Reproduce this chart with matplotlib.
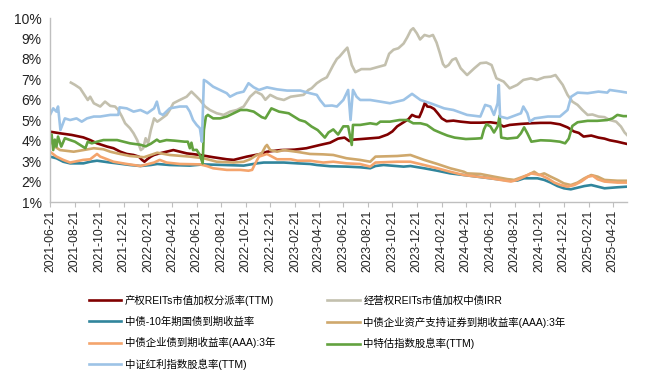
import matplotlib
matplotlib.use("Agg")
import matplotlib.pyplot as plt
import matplotlib.dates as mdates
import pandas as pd

plt.rcParams['font.family'] = ['Liberation Sans', 'Noto Sans CJK SC']

# ---- data (date, %) ----
reit_prop = [
    ("2021-06-21", 4.44), ("2021-07-16", 4.36), ("2021-08-14", 4.28), ("2021-09-12", 4.16),
    ("2021-09-29", 4.03), ("2021-10-16", 3.87), ("2021-11-10", 3.71), ("2021-11-26", 3.63),
    ("2021-12-13", 3.46), ("2021-12-29", 3.35), ("2022-01-15", 3.30), ("2022-01-28", 3.22),
    ("2022-02-05", 3.06), ("2022-02-11", 2.97), ("2022-02-18", 3.09), ("2022-02-27", 3.22),
    ("2022-03-07", 3.30), ("2022-03-21", 3.38), ("2022-04-07", 3.46), ("2022-04-24", 3.54),
    ("2022-05-27", 3.38), ("2022-06-29", 3.30), ("2022-08-01", 3.19), ("2022-09-04", 3.09),
    ("2022-09-21", 3.06), ("2022-10-24", 3.22), ("2022-11-27", 3.35), ("2022-12-13", 3.46),
    ("2023-01-16", 3.54), ("2023-02-19", 3.56), ("2023-03-21", 3.63), ("2023-04-24", 3.79),
    ("2023-05-19", 3.90), ("2023-06-08", 4.10), ("2023-06-24", 4.15), ("2023-07-06", 3.98),
    ("2023-07-15", 4.05), ("2023-08-05", 4.08), ("2023-09-18", 4.15), ("2023-10-09", 4.30),
    ("2023-10-21", 4.45), ("2023-11-02", 4.70), ("2023-11-18", 4.90), ("2023-11-30", 5.05),
    ("2023-12-09", 5.26), ("2023-12-18", 5.18), ("2023-12-27", 5.15), ("2024-01-02", 5.42),
    ("2024-01-10", 5.85), ("2024-01-16", 5.67), ("2024-01-24", 5.65), ("2024-02-02", 5.55),
    ("2024-02-11", 5.34), ("2024-02-21", 5.09), ("2024-03-04", 4.95), ("2024-03-21", 4.98),
    ("2024-04-08", 4.93), ("2024-05-03", 4.88), ("2024-05-27", 4.88), ("2024-06-21", 4.90),
    ("2024-07-09", 4.85), ("2024-07-24", 4.69), ("2024-08-08", 4.77), ("2024-09-05", 4.82),
    ("2024-09-30", 4.85), ("2024-10-24", 4.87), ("2024-11-18", 4.87), ("2024-12-11", 4.80),
    ("2024-12-30", 4.65), ("2025-01-15", 4.45), ("2025-01-27", 4.38), ("2025-02-08", 4.20),
    ("2025-02-27", 4.25), ("2025-03-17", 4.15), ("2025-04-01", 4.10), ("2025-04-14", 4.02),
    ("2025-05-03", 3.95), ("2025-05-18", 3.88), ("2025-05-27", 3.84),
]

reit_oper = [
    ("2021-08-12", 6.84), ("2021-08-22", 6.73), ("2021-09-04", 6.56), ("2021-09-12", 6.32),
    ("2021-09-23", 5.99), ("2021-09-29", 6.15), ("2021-10-08", 5.83), ("2021-10-24", 5.67),
    ("2021-11-05", 5.91), ("2021-11-18", 5.70), ("2021-11-30", 5.67), ("2021-12-08", 5.50),
    ("2021-12-17", 5.18), ("2021-12-25", 4.85), ("2022-01-06", 4.61), ("2022-01-15", 4.36),
    ("2022-01-24", 4.03), ("2022-02-02", 3.54), ("2022-02-08", 3.63), ("2022-02-14", 4.12),
    ("2022-02-20", 3.87), ("2022-02-27", 4.52), ("2022-03-07", 5.09), ("2022-03-15", 4.93),
    ("2022-03-21", 5.01), ("2022-04-07", 5.26), ("2022-04-15", 5.50), ("2022-04-24", 5.83),
    ("2022-05-10", 5.99), ("2022-05-27", 6.15), ("2022-06-08", 6.40), ("2022-06-21", 6.15),
    ("2022-06-29", 5.99), ("2022-07-12", 5.67), ("2022-07-24", 5.50), ("2022-08-10", 5.34),
    ("2022-08-27", 5.26), ("2022-09-12", 5.42), ("2022-09-29", 5.50), ("2022-10-16", 5.67),
    ("2022-11-01", 6.15), ("2022-11-15", 6.40), ("2022-11-30", 6.25), ("2022-12-09", 6.00),
    ("2022-12-21", 6.24), ("2023-01-07", 6.07), ("2023-01-24", 5.99), ("2023-02-10", 6.15),
    ("2023-03-14", 6.24), ("2023-03-26", 6.48), ("2023-04-03", 6.56), ("2023-04-16", 6.81),
    ("2023-04-28", 6.97), ("2023-05-11", 7.10), ("2023-05-27", 7.70), ("2023-06-05", 8.00),
    ("2023-06-11", 8.10), ("2023-06-24", 8.40), ("2023-07-01", 8.55), ("2023-07-12", 7.70),
    ("2023-07-21", 7.35), ("2023-08-05", 7.50), ("2023-08-27", 7.50), ("2023-09-18", 7.62),
    ("2023-10-03", 7.70), ("2023-10-13", 8.25), ("2023-10-24", 8.45), ("2023-11-05", 8.52),
    ("2023-11-18", 8.75), ("2023-11-27", 9.05), ("2023-12-06", 9.40), ("2023-12-12", 9.50),
    ("2023-12-21", 9.25), ("2023-12-29", 8.95), ("2024-01-09", 9.17), ("2024-01-21", 9.10),
    ("2024-01-30", 9.17), ("2024-02-08", 8.80), ("2024-02-16", 8.30), ("2024-02-24", 7.75),
    ("2024-03-01", 7.60), ("2024-03-09", 7.70), ("2024-03-18", 7.95), ("2024-03-27", 8.03),
    ("2024-04-08", 7.54), ("2024-04-24", 7.21), ("2024-05-12", 7.54), ("2024-05-27", 7.79),
    ("2024-06-11", 7.82), ("2024-06-24", 7.70), ("2024-07-06", 7.05), ("2024-07-24", 6.89),
    ("2024-08-08", 6.56), ("2024-08-27", 6.73), ("2024-09-11", 6.97), ("2024-09-30", 7.05),
    ("2024-10-15", 6.97), ("2024-11-02", 7.10), ("2024-11-18", 7.13), ("2024-11-30", 7.21),
    ("2024-12-09", 6.97), ("2024-12-18", 6.73), ("2024-12-30", 6.24), ("2025-01-11", 5.91),
    ("2025-01-24", 5.75), ("2025-02-05", 5.50), ("2025-02-18", 5.26), ("2025-03-02", 5.28),
    ("2025-03-17", 5.18), ("2025-04-01", 5.15), ("2025-04-14", 5.01), ("2025-04-30", 4.93),
    ("2025-05-12", 4.69), ("2025-05-21", 4.40), ("2025-05-27", 4.28),
]

gov_10y = [
    ("2021-06-21", 3.22), ("2021-07-07", 3.14), ("2021-07-24", 2.97), ("2021-08-10", 2.89),
    ("2021-09-12", 2.89), ("2021-09-29", 2.97), ("2021-10-16", 3.02), ("2021-11-18", 2.93),
    ("2021-12-05", 2.89), ("2022-01-06", 2.81), ("2022-02-01", 2.76), ("2022-02-27", 2.81),
    ("2022-03-15", 2.86), ("2022-04-15", 2.81), ("2022-06-04", 2.78), ("2022-07-08", 2.84),
    ("2022-08-27", 2.81), ("2022-10-16", 2.78), ("2022-11-18", 2.89), ("2022-12-05", 2.93),
    ("2023-01-24", 2.93), ("2023-02-27", 2.89), ("2023-03-30", 2.86), ("2023-04-16", 2.81),
    ("2023-05-19", 2.75), ("2023-06-29", 2.73), ("2023-08-01", 2.70), ("2023-08-27", 2.65),
    ("2023-09-09", 2.76), ("2023-09-29", 2.81), ("2023-11-18", 2.73), ("2023-12-05", 2.76),
    ("2024-01-08", 2.65), ("2024-02-10", 2.53), ("2024-03-13", 2.40), ("2024-04-16", 2.32),
    ("2024-05-19", 2.24), ("2024-06-21", 2.16), ("2024-07-24", 2.08), ("2024-08-27", 2.05),
    ("2024-09-13", 2.16), ("2024-10-16", 2.16), ("2024-11-02", 2.08), ("2024-11-18", 1.95),
    ("2024-12-05", 1.78), ("2024-12-21", 1.67), ("2025-01-07", 1.62), ("2025-02-10", 1.78),
    ("2025-02-27", 1.83), ("2025-04-01", 1.67), ("2025-05-03", 1.72), ("2025-05-27", 1.75),
]

abs_aaa_3y = [
    ("2021-06-21", 4.03), ("2021-07-03", 3.71), ("2021-07-16", 3.54), ("2021-08-19", 3.46),
    ("2021-09-12", 3.54), ("2021-10-08", 3.63), ("2021-11-01", 3.58), ("2021-11-18", 3.46),
    ("2021-12-05", 3.38), ("2022-01-06", 3.25), ("2022-02-10", 3.19), ("2022-03-15", 3.41),
    ("2022-04-15", 3.30), ("2022-06-04", 3.22), ("2022-07-08", 3.14), ("2022-08-10", 2.97),
    ("2022-09-21", 2.93), ("2022-10-16", 2.97), ("2022-11-01", 3.09), ("2022-11-18", 3.30),
    ("2022-11-30", 3.38), ("2022-12-09", 3.71), ("2022-12-13", 3.79), ("2022-12-21", 3.54),
    ("2023-01-07", 3.46), ("2023-01-24", 3.54), ("2023-02-27", 3.45), ("2023-03-30", 3.35),
    ("2023-05-02", 3.33), ("2023-05-27", 3.30), ("2023-06-29", 3.14), ("2023-08-01", 3.06),
    ("2023-08-27", 2.97), ("2023-09-09", 3.22), ("2023-11-02", 3.25), ("2023-12-05", 3.30),
    ("2024-01-08", 3.06), ("2024-02-10", 2.86), ("2024-03-13", 2.65), ("2024-04-16", 2.48),
    ("2024-04-24", 2.40), ("2024-05-27", 2.37), ("2024-06-30", 2.24), ("2024-08-02", 2.12),
    ("2024-08-19", 2.08), ("2024-09-22", 2.32), ("2024-10-08", 2.48), ("2024-10-20", 2.32),
    ("2024-11-02", 2.40), ("2024-11-18", 2.24), ("2024-12-05", 2.08), ("2024-12-21", 1.91),
    ("2025-01-07", 1.83), ("2025-01-24", 1.95), ("2025-02-10", 2.16), ("2025-02-27", 2.32),
    ("2025-03-15", 2.24), ("2025-04-01", 2.08), ("2025-05-03", 2.04), ("2025-05-27", 2.04),
]

corp_aaa_3y = [
    ("2021-06-21", 3.46), ("2021-07-07", 3.22), ("2021-07-24", 3.06), ("2021-08-10", 2.93),
    ("2021-09-12", 3.06), ("2021-09-29", 3.09), ("2021-10-16", 3.35), ("2021-10-24", 3.22),
    ("2021-11-26", 2.97), ("2021-12-29", 2.86), ("2022-02-01", 2.76), ("2022-03-07", 2.93),
    ("2022-03-21", 3.06), ("2022-04-07", 2.93), ("2022-05-10", 2.86), ("2022-06-29", 2.84),
    ("2022-07-16", 2.76), ("2022-08-01", 2.65), ("2022-09-04", 2.57), ("2022-10-08", 2.57),
    ("2022-10-28", 2.53), ("2022-11-06", 2.57), ("2022-11-14", 2.89), ("2022-11-23", 3.22),
    ("2022-12-13", 3.35), ("2023-01-07", 3.09), ("2023-02-10", 3.09), ("2023-02-27", 3.02),
    ("2023-03-30", 3.02), ("2023-05-02", 2.93), ("2023-05-27", 2.97), ("2023-06-29", 2.89),
    ("2023-08-01", 2.86), ("2023-08-27", 2.73), ("2023-09-09", 2.93), ("2023-11-02", 2.97),
    ("2023-12-05", 2.97), ("2024-01-08", 2.81), ("2024-02-10", 2.65), ("2024-03-13", 2.48),
    ("2024-04-16", 2.32), ("2024-05-19", 2.24), ("2024-06-21", 2.16), ("2024-08-11", 2.00),
    ("2024-08-27", 2.08), ("2024-09-13", 2.24), ("2024-09-30", 2.40), ("2024-10-24", 2.32),
    ("2024-11-10", 2.16), ("2024-11-27", 1.95), ("2024-12-13", 1.83), ("2024-12-30", 1.75),
    ("2025-01-16", 1.83), ("2025-02-02", 2.00), ("2025-02-19", 2.24), ("2025-03-03", 2.28),
    ("2025-03-15", 2.11), ("2025-04-01", 2.00), ("2025-05-03", 1.95), ("2025-05-27", 1.95),
]

cte_div = [
    ("2021-06-21", 4.28), ("2021-06-25", 4.30), ("2021-06-29", 3.54), ("2021-07-03", 4.05),
    ("2021-07-07", 3.71), ("2021-07-11", 4.20), ("2021-07-19", 3.71), ("2021-07-28", 4.12),
    ("2021-08-10", 4.03), ("2021-08-22", 3.95), ("2021-09-04", 3.79), ("2021-09-17", 3.63),
    ("2021-09-23", 3.95), ("2021-10-03", 3.87), ("2021-10-16", 3.95), ("2021-11-01", 4.03),
    ("2021-12-05", 4.03), ("2021-12-21", 3.95), ("2022-01-06", 3.87), ("2022-02-01", 3.80),
    ("2022-02-14", 3.72), ("2022-02-27", 3.85), ("2022-03-14", 4.05), ("2022-03-21", 3.95),
    ("2022-04-07", 4.03), ("2022-04-27", 4.00), ("2022-05-22", 3.95), ("2022-05-30", 3.95),
    ("2022-06-04", 3.63), ("2022-06-08", 3.90), ("2022-06-12", 3.54), ("2022-06-21", 3.55),
    ("2022-06-29", 3.30), ("2022-07-06", 2.89), ("2022-07-09", 4.52), ("2022-07-14", 5.18),
    ("2022-07-19", 5.26), ("2022-08-01", 5.09), ("2022-08-18", 5.09), ("2022-09-04", 5.18),
    ("2022-09-21", 5.34), ("2022-10-08", 5.50), ("2022-10-24", 5.50), ("2022-11-10", 5.42),
    ("2022-11-30", 5.15), ("2022-12-09", 5.09), ("2022-12-24", 5.58), ("2023-01-12", 5.42),
    ("2023-02-05", 5.34), ("2023-03-04", 5.01), ("2023-03-18", 4.93), ("2023-04-03", 4.69),
    ("2023-04-18", 4.52), ("2023-04-24", 4.40), ("2023-05-06", 4.15), ("2023-05-15", 4.40),
    ("2023-05-27", 4.55), ("2023-06-08", 4.30), ("2023-06-21", 4.70), ("2023-07-03", 4.70),
    ("2023-07-12", 3.79), ("2023-07-15", 4.77), ("2023-08-02", 4.77), ("2023-08-27", 4.85),
    ("2023-09-12", 4.80), ("2023-09-21", 4.93), ("2023-10-15", 4.93), ("2023-11-08", 5.01),
    ("2023-11-27", 5.01), ("2023-12-12", 4.85), ("2023-12-30", 4.85), ("2024-01-15", 4.77),
    ("2024-02-02", 4.52), ("2024-02-21", 4.36), ("2024-03-06", 4.25), ("2024-03-24", 4.15),
    ("2024-04-21", 4.08), ("2024-05-15", 4.10), ("2024-05-30", 4.12), ("2024-06-05", 4.55),
    ("2024-06-11", 4.80), ("2024-06-21", 4.70), ("2024-06-30", 4.40), ("2024-07-09", 4.70),
    ("2024-07-14", 5.22), ("2024-07-18", 4.15), ("2024-08-02", 4.10), ("2024-08-27", 4.15),
    ("2024-09-05", 4.36), ("2024-09-13", 4.65), ("2024-09-21", 4.36), ("2024-10-01", 3.95),
    ("2024-10-24", 4.02), ("2024-11-18", 4.00), ("2024-12-11", 3.95), ("2024-12-24", 3.87),
    ("2025-01-02", 4.10), ("2025-01-11", 4.72), ("2025-01-24", 4.90), ("2025-02-18", 4.97),
    ("2025-03-14", 4.97), ("2025-04-08", 5.01), ("2025-04-21", 5.09), ("2025-05-03", 5.26),
    ("2025-05-18", 5.20), ("2025-05-27", 5.20),
]

csi_div = [
    ("2021-06-21", 5.26), ("2021-06-29", 5.58), ("2021-07-07", 5.42), ("2021-07-11", 5.67),
    ("2021-07-17", 4.52), ("2021-07-28", 5.09), ("2021-08-10", 5.01), ("2021-08-26", 5.09),
    ("2021-09-08", 4.93), ("2021-09-21", 5.09), ("2021-10-08", 5.18), ("2021-10-24", 5.18),
    ("2021-11-18", 5.26), ("2021-12-08", 5.26), ("2021-12-11", 5.63), ("2021-12-29", 5.58),
    ("2022-01-15", 5.42), ("2022-02-01", 5.50), ("2022-02-18", 5.34), ("2022-03-07", 5.58),
    ("2022-03-14", 5.91), ("2022-03-21", 5.34), ("2022-03-29", 5.26), ("2022-04-15", 5.58),
    ("2022-05-10", 5.67), ("2022-05-27", 5.67), ("2022-06-04", 5.42), ("2022-06-12", 5.01),
    ("2022-06-21", 4.77), ("2022-06-29", 4.61), ("2022-07-04", 3.95), ("2022-07-09", 6.97),
    ("2022-07-16", 6.89), ("2022-08-01", 6.64), ("2022-09-04", 6.32), ("2022-09-12", 6.15),
    ("2022-09-29", 6.32), ("2022-10-16", 6.40), ("2022-10-28", 6.81), ("2022-11-10", 6.61),
    ("2022-11-23", 6.48), ("2022-12-13", 6.61), ("2023-01-07", 6.51), ("2023-02-01", 6.45),
    ("2023-03-06", 6.45), ("2023-03-30", 6.32), ("2023-04-16", 6.24), ("2023-04-24", 5.99),
    ("2023-05-06", 5.70), ("2023-05-24", 5.72), ("2023-06-05", 5.67), ("2023-06-21", 5.99),
    ("2023-07-03", 6.48), ("2023-07-09", 5.01), ("2023-07-15", 6.48), ("2023-07-24", 6.15),
    ("2023-08-02", 5.99), ("2023-08-27", 5.99), ("2023-09-21", 5.91), ("2023-10-15", 5.83),
    ("2023-11-18", 5.99), ("2023-12-09", 6.29), ("2023-12-30", 5.99), ("2024-01-24", 5.83),
    ("2024-02-27", 5.58), ("2024-03-21", 5.50), ("2024-04-24", 5.26), ("2024-05-27", 5.18),
    ("2024-06-08", 5.75), ("2024-06-21", 5.67), ("2024-06-30", 5.26), ("2024-07-09", 5.83),
    ("2024-07-12", 6.73), ("2024-07-15", 5.18), ("2024-08-02", 5.09), ("2024-09-05", 5.34),
    ("2024-09-11", 5.67), ("2024-09-21", 5.34), ("2024-09-27", 4.93), ("2024-10-09", 5.09),
    ("2024-11-11", 5.18), ("2024-12-11", 5.18), ("2024-12-30", 5.50), ("2025-01-08", 6.15),
    ("2025-01-24", 6.35), ("2025-02-18", 6.32), ("2025-03-17", 6.40), ("2025-04-08", 6.35),
    ("2025-04-14", 6.48), ("2025-05-12", 6.40), ("2025-05-27", 6.35),
]

labels = ["产权REITs市值加权分派率(TTM)", "经营权REITs市值加权中债IRR", "中债-10年期国债到期收益率",
          "中债企业资产支持证券到期收益率(AAA):3年", "中债企业债到期收益率(AAA):3年",
          "中特估指数股息率(TTM)", "中证红利指数股息率(TTM)"]
colors = ["#800000", "#C3C0AE", "#31859C", "#CFA86C", "#F4A46C", "#63A23F", "#9DC3E6"]
all_series = [reit_prop, reit_oper, gov_10y, abs_aaa_3y, corp_aaa_3y, cte_div, csi_div]

W, H = 646, 383
fig = plt.figure(figsize=(W / 100, H / 100), dpi=100)
ax = fig.add_axes([50 / W, 1 - 202 / H, 577 / W, 184 / H])

lines = []
for pts, lab, col in zip(all_series, labels, colors):
    d = pd.to_datetime([p[0] for p in pts])
    v = [p[1] for p in pts]
    ln, = ax.plot(d, v, color=col, lw=1.9, label=lab, solid_joinstyle='round')
    lines.append(ln)

ax.set_ylim(1, 10)
ax.set_xlim(pd.Timestamp("2021-06-21"), pd.Timestamp("2025-05-27"))
ax.set_yticks(range(1, 11))
ax.yaxis.set_major_formatter(plt.FuncFormatter(lambda v, p: f"{v:.0f}%"))
ax.xaxis.set_major_locator(mdates.MonthLocator(bymonth=[2, 4, 6, 8, 10, 12], bymonthday=21))
ax.xaxis.set_major_formatter(mdates.DateFormatter("%Y-%m-%d"))

for s in ["top", "right"]:
    ax.spines[s].set_visible(False)
for s in ["left", "bottom"]:
    ax.spines[s].set_color("#BFBFBF")
    ax.spines[s].set_linewidth(1.0)

ax.tick_params(axis="y", length=0, pad=6, labelsize=10, labelcolor="#222222")
ax.tick_params(axis="x", length=3.5, width=0.8, color="#BFBFBF", pad=2,
               labelsize=8.8, labelcolor="#222222", labelrotation=90)

# legend: row-wise order as in the original
order = [0, 2, 4, 6, 1, 3, 5]
fig.legend([lines[i] for i in order], [labels[i] for i in order],
           ncol=2, loc="upper left", bbox_to_anchor=(89 / W, 1 - 295 / H),
           frameon=False, fontsize=7.5, handlelength=3.1, handletextpad=0.35,
           columnspacing=5.0, labelspacing=1.0, borderpad=0, borderaxespad=0)

fig.savefig("out.png", dpi=100)
